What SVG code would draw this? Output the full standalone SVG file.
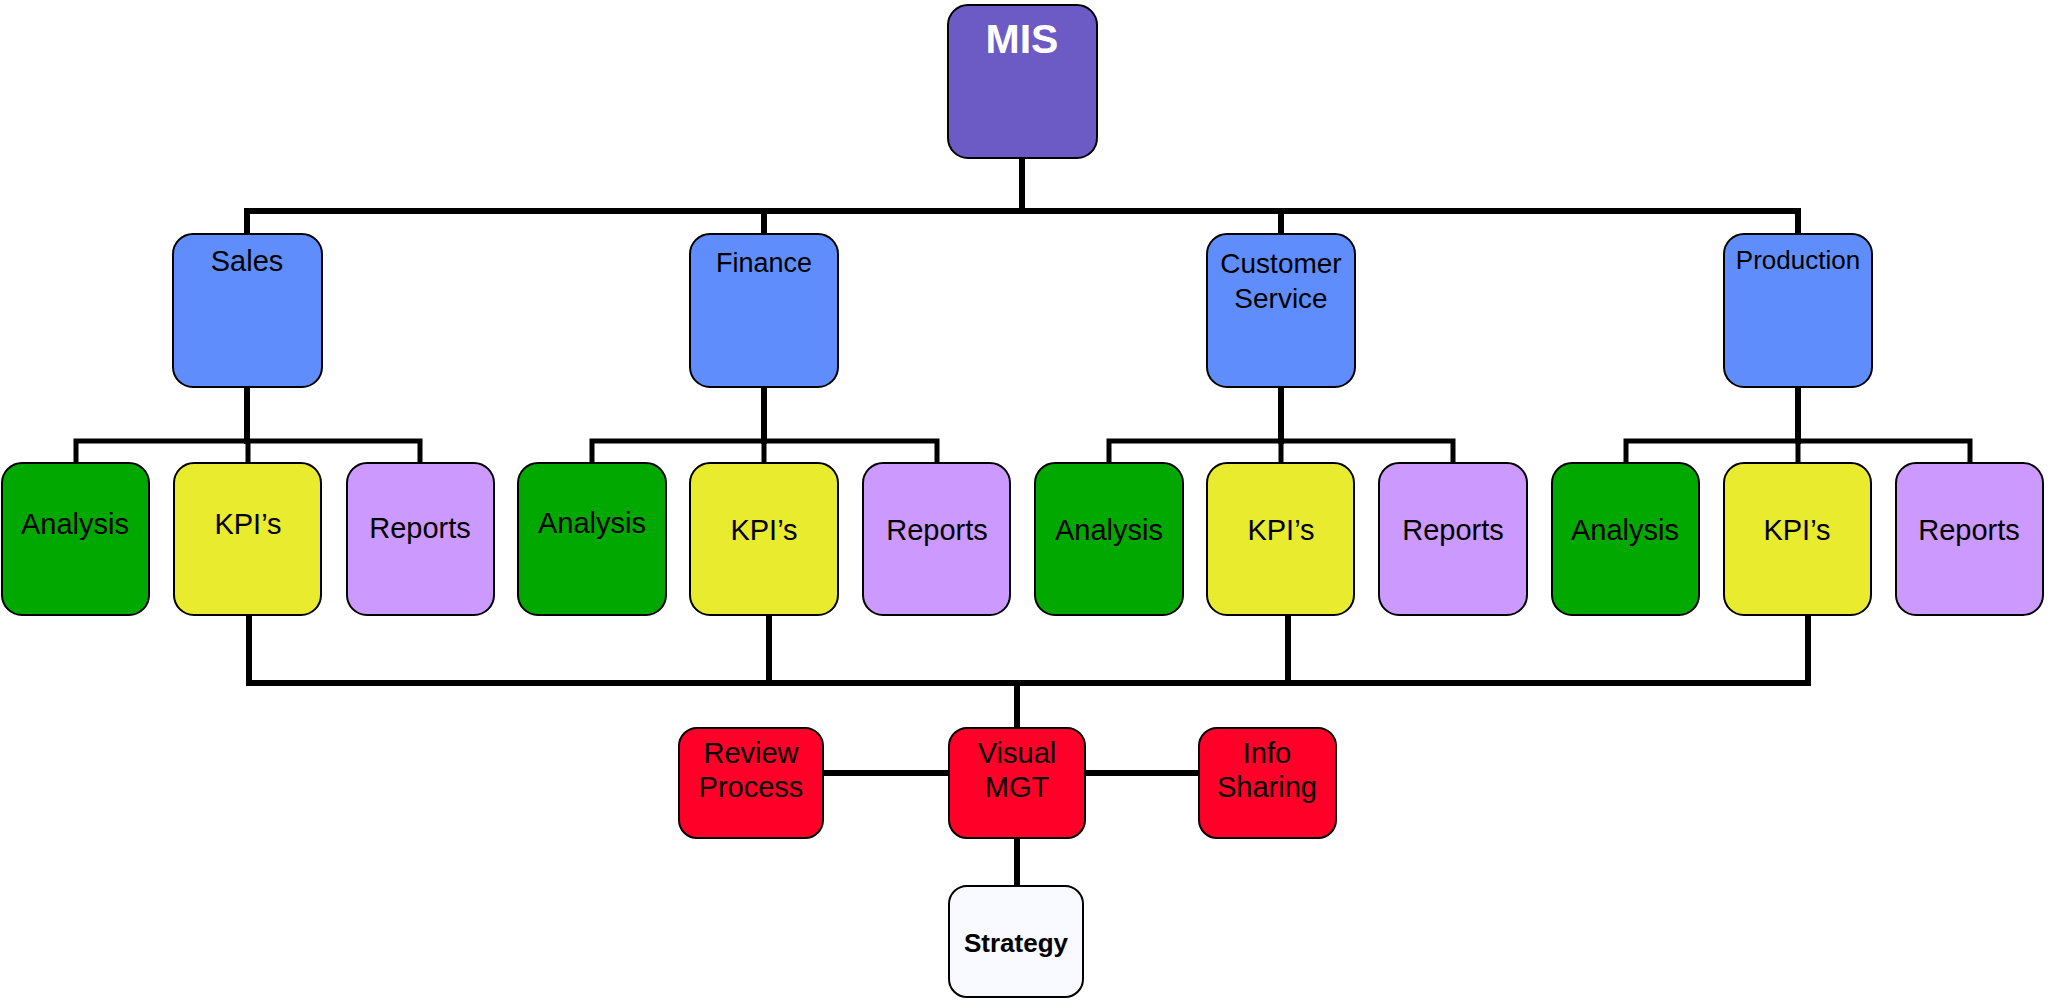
<svg xmlns="http://www.w3.org/2000/svg" width="2049" height="1000" viewBox="0 0 2049 1000">
<style>
  .box { stroke: #000; stroke-width: 2; }
  .mis { fill: #6C5BC4; }
  .dept { fill: #5F8EFC; }
  .ana { fill: #00A800; }
  .kpi { fill: #E8EB2E; }
  .rep { fill: #CC99FF; }
  .red { fill: #FF0028; }
  .str { fill: #F8FAFF; }
  text { font-family: "Liberation Sans", Arial, sans-serif; fill: #000; text-anchor: middle; }
  .t { font-size: 29px; }
  .lines { stroke: #000; fill: none; stroke-linecap: square; }
  .thick { stroke-width: 6; }
  .thin { stroke-width: 5; }
</style>
<rect width="2049" height="1000" fill="#fff"/>

<g id="connectors" class="lines">
  <!-- MIS to departments -->
  <path class="thick" d="M1022 158 V211 M247 211 H1798 M247 211 V234 M764 211 V234 M1281 211 V234 M1798 211 V234"/>
  <!-- department brackets -->
  <path class="thick" d="M247 387 V441 M764 387 V441 M1281 387 V441 M1798 387 V441"/>
  <path class="thin" d="M76 463 V441 H420 V463 M248 441 V463"/>
  <path class="thin" d="M592 463 V441 H937 V463 M764 441 V463"/>
  <path class="thin" d="M1109 463 V441 H1453 V463 M1281 441 V463"/>
  <path class="thin" d="M1626 463 V441 H1970 V463 M1798 441 V463"/>
  <!-- KPI to Visual MGT -->
  <path class="thick" d="M249 615 V683 M769 615 V683 M1288 615 V683 M1808 615 V683 M249 683 H1808 M1017 683 V728"/>
  <!-- Visual MGT links -->
  <path class="thick" d="M815 773 H949 M1085 773 H1199 M1017 842 V883"/>
</g>

<g id="mis"><rect class="box mis" x="948" y="5" width="149" height="153" rx="20"/><text x="1022" y="53" style="font-size:41px;font-weight:bold;fill:#fff">MIS</text></g>

<g id="sales"><rect class="box dept" x="173" y="234" width="149" height="153" rx="20"/><text class="t" x="247" y="271">Sales</text></g>
<g id="finance"><rect class="box dept" x="690" y="234" width="148" height="153" rx="20"/><text x="764" y="272" style="font-size:27px">Finance</text></g>
<g id="customer-service"><rect class="box dept" x="1207" y="234" width="148" height="153" rx="20"/><text x="1281" y="273" style="font-size:28px">Customer</text><text x="1281" y="308" style="font-size:28px">Service</text></g>
<g id="production"><rect class="box dept" x="1724" y="234" width="148" height="153" rx="20"/><text x="1798" y="269" style="font-size:26px">Production</text></g>

<g id="sales-analysis"><rect class="box ana" x="2" y="463" width="147" height="152" rx="20"/><text class="t" x="75" y="534">Analysis</text></g>
<g id="sales-kpis"><rect class="box kpi" x="174" y="463" width="147" height="152" rx="20"/><text class="t" x="248" y="534">KPI’s</text></g>
<g id="sales-reports"><rect class="box rep" x="347" y="463" width="147" height="152" rx="20"/><text class="t" x="420" y="538">Reports</text></g>

<g id="finance-analysis"><rect class="box ana" x="518" y="463" width="148" height="152" rx="20"/><text class="t" x="592" y="533">Analysis</text></g>
<g id="finance-kpis"><rect class="box kpi" x="690" y="463" width="148" height="152" rx="20"/><text class="t" x="764" y="540">KPI’s</text></g>
<g id="finance-reports"><rect class="box rep" x="863" y="463" width="147" height="152" rx="20"/><text class="t" x="937" y="540">Reports</text></g>

<g id="customer-analysis"><rect class="box ana" x="1035" y="463" width="148" height="152" rx="20"/><text class="t" x="1109" y="540">Analysis</text></g>
<g id="customer-kpis"><rect class="box kpi" x="1207" y="463" width="147" height="152" rx="20"/><text class="t" x="1281" y="540">KPI’s</text></g>
<g id="customer-reports"><rect class="box rep" x="1379" y="463" width="148" height="152" rx="20"/><text class="t" x="1453" y="540">Reports</text></g>

<g id="production-analysis"><rect class="box ana" x="1552" y="463" width="147" height="152" rx="20"/><text class="t" x="1625" y="540">Analysis</text></g>
<g id="production-kpis"><rect class="box kpi" x="1724" y="463" width="147" height="152" rx="20"/><text class="t" x="1797" y="540">KPI’s</text></g>
<g id="production-reports"><rect class="box rep" x="1896" y="463" width="147" height="152" rx="20"/><text class="t" x="1969" y="540">Reports</text></g>

<g id="review-process"><rect class="box red" x="679" y="728" width="144" height="110" rx="18"/><text class="t" x="751" y="763">Review</text><text class="t" x="751" y="797">Process</text></g>
<g id="visual-mgt"><rect class="box red" x="949" y="728" width="136" height="110" rx="18"/><text class="t" x="1017" y="763">Visual</text><text class="t" x="1017" y="797">MGT</text></g>
<g id="info-sharing"><rect class="box red" x="1199" y="728" width="137" height="110" rx="18"/><text class="t" x="1267" y="763">Info</text><text class="t" x="1267" y="797">Sharing</text></g>
<g id="strategy"><rect class="box str" x="949" y="886" width="134" height="111" rx="18"/><text x="1016" y="952" style="font-size:26px;font-weight:bold">Strategy</text></g>
</svg>
